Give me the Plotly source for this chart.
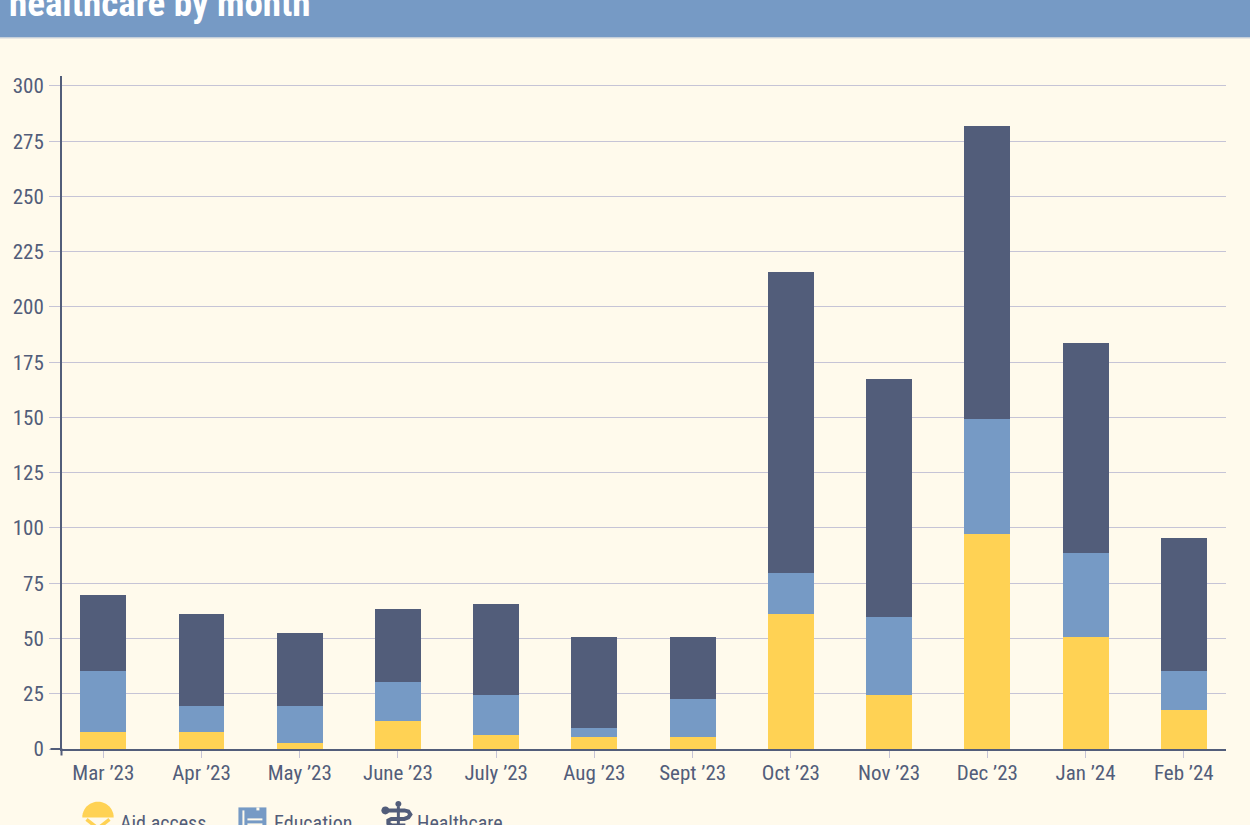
import plotly.graph_objects as go
import math

months = ["Mar ’23", "Apr ’23", "May ’23", "June ’23", "July ’23", "Aug ’23",
          "Sept ’23", "Oct ’23", "Nov ’23", "Dec ’23", "Jan ’24", "Feb ’24"]
aid_access = [7.5, 7.5, 2.5, 12.5, 6.5, 5.5, 5.5, 61, 24.5, 97.5, 50.5, 17.5]
education = [28, 12, 17, 18, 18, 4, 17, 18.5, 35, 52, 38, 18]
healthcare = [34, 41.5, 33, 33, 41, 41, 28, 136.5, 108, 132.5, 95, 60]
y_ticks = list(range(0, 301, 25))

W, H = 1250, 825
L, R, T, B = 61.5, 1226, 75.5, 749.5
CREAM = "#FFFAEC"
YELLOW = "#FFD254"
BLUE = "#769AC5"
DARK = "#525D7A"
GRID = "#C6C4D6"
FONT = "Roboto Condensed, Roboto, Liberation Sans, sans-serif"


def px(x):
    return (x - L) / (R - L)


def py(y):
    return (B - y) / (B - T)


def path(points, close=True):
    d = "M " + " L ".join(f"{px(x):.5f},{py(y):.5f}" for x, y in points)
    return d + " Z" if close else d


def shape(kind_path, color):
    return dict(type="path", xref="paper", yref="paper", path=kind_path,
                fillcolor=color, line=dict(width=0), layer="above")


def stroke(points, color, width):
    return dict(type="path", xref="paper", yref="paper", path=path(points, close=False),
                line=dict(color=color, width=width), layer="above")


def arc_points(cx, cy, r, a0, a1, n=24):
    return [(cx + r * math.cos(math.radians(a0 + (a1 - a0) * i / n)),
             cy - r * math.sin(math.radians(a0 + (a1 - a0) * i / n))) for i in range(n + 1)]


fig = go.Figure()
for name, vals, col in [("Aid access", aid_access, YELLOW),
                        ("Education", education, BLUE),
                        ("Healthcare", healthcare, DARK)]:
    fig.add_bar(x=months, y=vals, name=name, marker=dict(color=col, line=dict(width=0)),
                showlegend=False)

shapes = [
    dict(type="rect", xref="paper", yref="paper", x0=px(-5), x1=px(W + 5), y0=py(37), y1=py(-5),
         fillcolor=BLUE, line=dict(width=0), layer="above"),
    dict(type="line", xref="paper", yref="paper", x0=px(-5), x1=px(W + 5), y0=py(37.5), y1=py(37.5),
         line=dict(color="#D5D8DC", width=1), layer="above"),
    dict(type="line", xref="paper", yref="paper", x0=px(50), x1=px(61), y0=py(749.5), y1=py(749.5),
         line=dict(color=DARK, width=2), layer="above"),
    dict(type="line", xref="paper", yref="paper", x0=px(61), x1=px(61), y0=py(749), y1=py(756),
         line=dict(color=DARK, width=2), layer="above"),
    # Aid access icon: canopy and chevron
    shape(path(arc_points(97.5, 818, 15.7, 0, 180)), YELLOW),
    stroke([(86, 820), (97.5, 829), (109, 820)], YELLOW, 3.5),
    # Education icon: folder with a tab and white rules
    shape(path([(238, 808), (266, 808), (266, 830), (238, 830)]), BLUE),
    shape(path([(256, 808), (259, 808), (259, 811), (256, 811)]), CREAM),
    shape(path([(242, 811), (244, 811), (244, 830), (242, 830)]), CREAM),
    shape(path([(247, 819), (262, 819), (262, 821), (247, 821)]), CREAM),
    shape(path([(247, 824), (262, 824), (262, 826), (247, 826)]), CREAM),
    # Healthcare icon: serpent and rod
    shape(path(arc_points(398, 804.5, 3, 0, 360, 16)), DARK),
    shape(path(arc_points(385, 811, 4, 0, 360, 16)), DARK),
    stroke([(385, 811), (404, 811), (408, 812), (410, 815), (408, 818), (404, 819.5),
            (391, 819.5), (388, 821), (388, 824), (391, 826), (405, 826)], DARK, 4),
    stroke([(398, 807), (398, 830)], DARK, 3),
]

annotations = [
    dict(xref="paper", yref="paper", x=px(6), y=py(3), text="<b>healthcare by month</b>",
         showarrow=False, xanchor="left", yanchor="middle",
         font=dict(family=FONT, size=37, color="white")),
]
for label, x in [("Aid access", 118), ("Education", 272), ("Healthcare", 415)]:
    annotations.append(dict(xref="paper", yref="paper", x=px(x), y=py(824), text=label,
                            showarrow=False, xanchor="left", yanchor="middle",
                            font=dict(family=FONT, size=20, color=DARK)))

fig.update_layout(
    width=W, height=H, autosize=False,
    margin=dict(l=L, r=W - R, t=T, b=H - B, pad=0),
    paper_bgcolor=CREAM, plot_bgcolor=CREAM,
    barmode="stack", bargap=0.532,
    font=dict(family=FONT, size=21, color=DARK),
    shapes=shapes, annotations=annotations, showlegend=False,
    xaxis=dict(type="category", categoryorder="array", categoryarray=months,
               range=[-0.4203, 11.43], showgrid=False, ticks="outside", ticklen=7,
               tickcolor=GRID, tickwidth=1, showline=True, linecolor=DARK, linewidth=2,
               zeroline=False, ticklabelstandoff=-3,
               tickfont=dict(family=FONT, size=21, color=DARK), fixedrange=True),
    yaxis=dict(range=[0, 304.5], tickvals=y_ticks, showgrid=True, gridcolor=GRID, gridwidth=1,
               ticks="outside", ticklen=11, tickcolor=GRID, tickwidth=1, showline=True,
               linecolor=DARK, linewidth=2, zeroline=False, ticklabelstandoff=1,
               tickfont=dict(family=FONT, size=21, color=DARK), fixedrange=True),
)

fig.write_html("out.html", config=dict(displayModeBar=False),
               post_script="document.body.style.margin='0';document.body.style.overflow='hidden';"
                           "var s=document.createElement('style');"
                           "s.textContent='svg text{font-stretch:75%}';document.head.appendChild(s);")
